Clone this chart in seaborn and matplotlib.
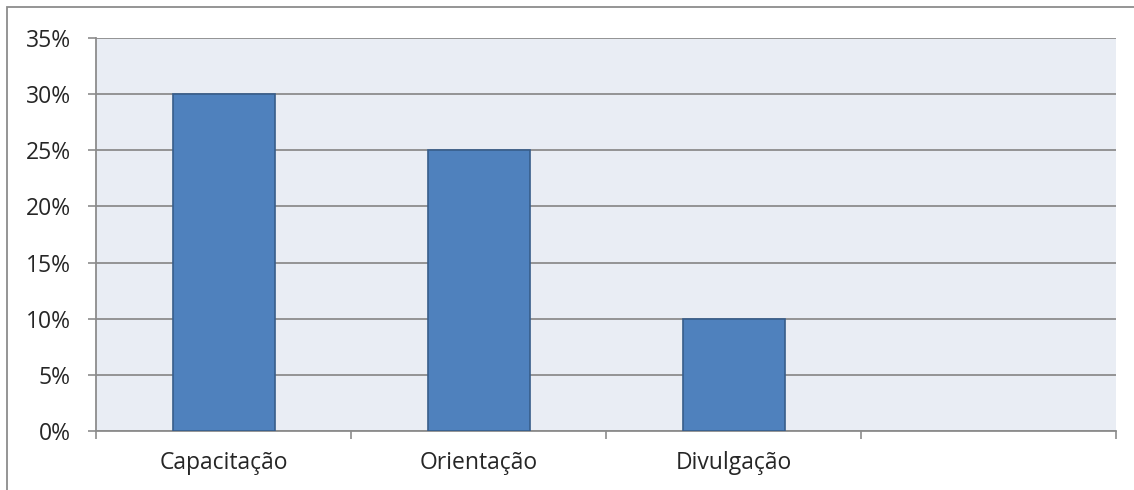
import matplotlib
matplotlib.use('Agg')
from matplotlib import pyplot as plt
from matplotlib.patches import Rectangle
from matplotlib.ticker import FuncFormatter, FixedLocator
import pandas as pd
import seaborn as sns

categories = ["Capacitação", "Orientação", "Divulgação"]
values = [0.30, 0.25, 0.10]
y_ticks = [0, 0.05, 0.10, 0.15, 0.20, 0.25, 0.30, 0.35]

sns.set_style("white")
plt.rcParams['font.family'] = ['Open Sans', 'DejaVu Sans']

df = pd.DataFrame({"cat": categories, "val": values})

W, H = 1134, 490
fig = plt.figure(figsize=(W / 100, H / 100), dpi=100)
ax = fig.add_axes([96 / W, 1 - 431 / H, (1116 - 96) / W, (431 - 38) / H])
ax.set_facecolor("#E9EDF4")

sns.barplot(data=df, x="cat", y="val", color="#4F81BD", width=0.4,
            edgecolor="#385D8A", linewidth=1.2, saturation=1, ax=ax, zorder=3)

ax.set_xlim(-0.5, 3.5)
ax.set_ylim(0, 0.35)
ax.set_xlabel("")
ax.set_ylabel("")

ax.yaxis.set_major_locator(FixedLocator(y_ticks))
ax.yaxis.set_major_formatter(FuncFormatter(lambda v, p: f"{round(v * 100)}%"))
ax.grid(axis="y", color="#8C8C8C", linewidth=1.3, zorder=1)
ax.set_axisbelow(True)

ax.set_xticks(range(len(categories)))
ax.set_xticklabels(categories)
ax.set_xticks([-0.5, 0.5, 1.5, 2.5, 3.5], minor=True)
ax.tick_params(axis="x", which="major", length=0, pad=14.5, labelsize=16.5)
ax.tick_params(axis="x", which="minor", length=6, width=1.2, color="#8C8C8C", direction="out")
ax.tick_params(axis="y", length=6, width=1.2, color="#8C8C8C", labelsize=16.5, pad=12, direction="out")
ax.xaxis.set_ticks_position("bottom")
ax.yaxis.set_ticks_position("left")

for side in ["top", "right"]:
    ax.spines[side].set_visible(False)
for side in ["left", "bottom"]:
    ax.spines[side].set_color("#8C8C8C")
    ax.spines[side].set_linewidth(1.3)

# outer chart frame
fig.patches.append(Rectangle((7 / W, -0.1), 1.2, 1 - 7 / H + 0.1, transform=fig.transFigure,
                             fill=False, edgecolor="#8C8C8C", linewidth=1.3))

fig.savefig("out.png", dpi=100)
